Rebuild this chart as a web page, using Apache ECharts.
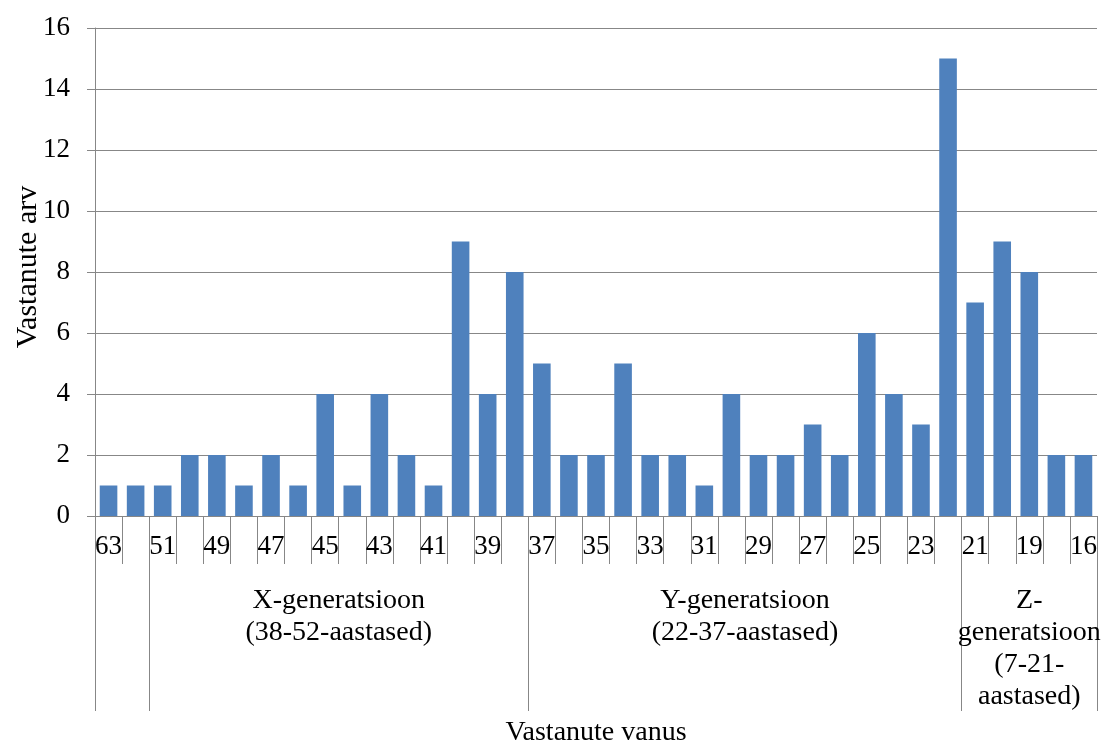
<!DOCTYPE html>
<html>
<head>
<meta charset="utf-8">
<script src="https://cdn.jsdelivr.net/npm/echarts@6/dist/echarts.min.js"></script>
<style>html,body{margin:0;padding:0;background:#fff}#c{width:1102px;height:745px}</style>
</head>
<body>
<div id="c"></div>
<script>
var ages = ['63','56','51','50','49','48','47','46','45','44','43','42','41','40','39','38','37','36','35','34','33','32','31','30','29','28','27','26','25','24','23','22','21','20','19','18','16'];
var counts = [1,1,1,2,2,1,2,1,4,1,4,2,1,9,4,8,5,2,2,5,2,2,1,4,2,2,3,2,6,4,3,15,7,9,8,2,2];
var groupBounds = [0,2,16,32,37];
var groupLabels = ['', 'X-generatsioon\n(38-52-aastased)', 'Y-generatsioon\n(22-37-aastased)', 'Z-\ngeneratsioon\n(7-21-\naastased)'];

var font = 'Liberation Serif, Times New Roman, serif';
var gray = '#878787';

var labelPos = [], labelMap = {};
for (var i = 0; i < groupLabels.length; i++) {
  if (!groupLabels[i]) continue;
  var m = (groupBounds[i] + groupBounds[i+1]) / 2;
  labelPos.push(m);
  labelMap[m] = groupLabels[i];
}

var chart = echarts.init(document.getElementById('c'), null, {renderer: 'canvas'});
chart.setOption({
  animation: false,
  grid: {left: 95, right: 5, top: 28, bottom: 229, containLabel: false, outerBoundsMode: 'none'},
  xAxis: [{
    type: 'category',
    data: ages,
    boundaryGap: true,
    axisLine: {show: true, lineStyle: {color: gray, width: 1}},
    axisTick: {show: true, interval: 0, length: 48, lineStyle: {color: gray}},
    axisLabel: {interval: 1, margin: 17, color: '#000', fontFamily: font, fontSize: 27},
    splitLine: {show: false},
    name: 'Vastanute vanus',
    nameLocation: 'middle',
    nameGap: 203,
    nameMoveOverlap: false,
    nameTextStyle: {color: '#000', fontFamily: font, fontSize: 28}
  }, {
    type: 'value',
    min: 0,
    max: ages.length,
    position: 'bottom',
    axisLine: {show: false},
    splitLine: {show: false},
    axisTick: {show: true, customValues: groupBounds, length: 195, lineStyle: {color: gray}},
    axisLabel: {
      customValues: labelPos,
      margin: 69,
      color: '#000', fontFamily: font, fontSize: 28, lineHeight: 32, align: 'center',
      formatter: function (v) { return labelMap[v] || ''; }
    }
  }],
  yAxis: {
    type: 'value',
    min: 0, max: 16, interval: 2,
    axisLine: {show: true, lineStyle: {color: gray}},
    axisTick: {show: true, length: 8, lineStyle: {color: gray}},
    axisLabel: {margin: 25, color: '#000', fontFamily: font, fontSize: 27},
    splitLine: {show: true, lineStyle: {color: gray, width: 1}},
    name: 'Vastanute arv',
    nameLocation: 'middle',
    nameGap: 52,
    nameRotate: 90,
    nameMoveOverlap: false,
    nameTextStyle: {color: '#000', fontFamily: font, fontSize: 30, padding: [0, 0, 0, 10]}
  },
  series: [{
    type: 'bar',
    data: counts,
    xAxisIndex: 0,
    barCategoryGap: '35%',
    itemStyle: {color: '#4F81BD'}
  }]
});
</script>
</body>
</html>
